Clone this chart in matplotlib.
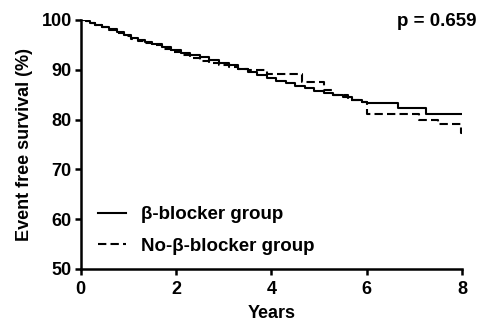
import matplotlib
matplotlib.use('Agg')
import matplotlib.pyplot as plt

# Kaplan-Meier step data
t_bb = [0, 0.1, 0.2, 0.3, 0.45, 0.6, 0.75, 0.9, 1.05, 1.2, 1.35, 1.5, 1.7, 1.9,
        2.1, 2.3, 2.5, 2.7, 2.9, 3.1, 3.3, 3.5, 3.7, 3.9, 4.1, 4.3, 4.5, 4.7,
        4.9, 5.1, 5.3, 5.5, 5.7, 5.9, 6.0, 6.65, 7.25, 8.0]
s_bb = [100, 99.7, 99.4, 99.0, 98.6, 98.1, 97.6, 97.0, 96.4, 96.0, 95.6, 95.1,
        94.5, 93.9, 93.4, 92.9, 92.5, 92.0, 91.4, 90.9, 90.2, 89.6, 89.0, 88.4,
        87.8, 87.3, 86.8, 86.3, 85.8, 85.4, 85.0, 84.5, 84.0, 83.6, 83.3, 82.3,
        81.2, 81.2]

t_no = [0, 0.1, 0.2, 0.3, 0.45, 0.6, 0.75, 0.9, 1.05, 1.2, 1.35, 1.5, 1.7, 1.9,
        2.1, 2.3, 2.5, 2.7, 2.9, 3.1, 3.3, 3.5, 3.9, 4.65, 5.1, 5.3, 5.6, 5.9,
        6.0, 7.1, 7.5, 7.97, 8.0]
s_no = [100, 99.7, 99.3, 98.9, 98.5, 98.0, 97.4, 96.8, 96.2, 95.8, 95.4, 94.9,
        94.2, 93.5, 92.9, 92.3, 91.8, 91.4, 91.0, 90.6, 90.2, 89.9, 89.1, 87.5,
        85.9, 85.0, 84.0, 83.6, 81.1, 80.0, 79.0, 77.2, 77.2]

x_ticks = [0, 2, 4, 6, 8]
y_ticks = [50, 60, 70, 80, 90, 100]

plt.rcParams['font.family'] = ['Liberation Sans', 'DejaVu Sans']
plt.rcParams['font.weight'] = 'bold'

fig = plt.figure(figsize=(4.81, 3.26), dpi=100)
ax = fig.add_axes([0.168, 0.175, 0.7925, 0.764])

ax.step(t_bb, s_bb, where='post', color='black', lw=1.5, label='β-blocker group')
ax.step(t_no, s_no, where='post', color='black', lw=1.5, linestyle=(0, (4, 2)),
        label='No-β-blocker group')

ax.set_xlim(0, 8)
ax.set_ylim(50, 100)
ax.set_xticks(x_ticks)
ax.set_yticks(y_ticks)
ax.tick_params(direction='out', length=4.5, width=1.8, labelsize=13)
ax.tick_params(axis='x', pad=4)
ax.tick_params(axis='y', pad=2)
for lab in ax.get_xticklabels() + ax.get_yticklabels():
    lab.set_fontweight('bold')

for side in ['top', 'right']:
    ax.spines[side].set_visible(False)
for side in ['left', 'bottom']:
    ax.spines[side].set_linewidth(1.8)

ax.set_xlabel('Years', fontsize=13, fontweight='bold', labelpad=5)
ax.set_ylabel('Event free survival (%)', fontsize=13, fontweight='bold', labelpad=6)

fig.text(0.99, 0.933, 'p = 0.659', ha='right', va='center',
         fontsize=13.5, fontweight='bold')

leg = ax.legend(loc='lower left', bbox_to_anchor=(0.0, -0.01), frameon=False,
                fontsize=13.5, handlelength=1.5, handletextpad=0.8,
                labelspacing=0.75)
for txt in leg.get_texts():
    txt.set_fontweight('bold')

fig.savefig('out.png', dpi=100)
